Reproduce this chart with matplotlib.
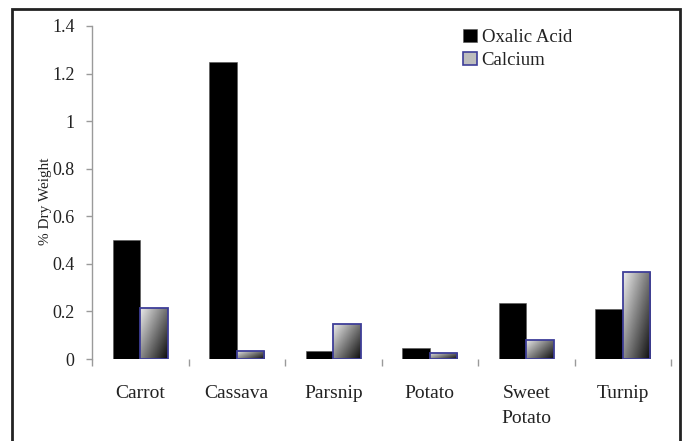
import numpy as np
import matplotlib
matplotlib.use("Agg")
import matplotlib.pyplot as plt
from matplotlib.patches import Rectangle, Patch

# Data
categories = ["Carrot", "Cassava", "Parsnip", "Potato", "Sweet\nPotato", "Turnip"]
oxalic_acid = [0.50, 1.25, 0.035, 0.045, 0.235, 0.21]
calcium = [0.215, 0.035, 0.147, 0.027, 0.08, 0.365]
y_ticks = [0, 0.2, 0.4, 0.6, 0.8, 1, 1.2, 1.4]
y_tick_labels = ["0", "0.2", "0.4", "0.6", "0.8", "1", "1.2", "1.4"]

plt.rcParams["font.family"] = ["Liberation Serif", "DejaVu Serif"]

W, H = 686, 441
fig = plt.figure(figsize=(W / 100, H / 100), dpi=100)
ax = fig.add_axes([92 / W, 1 - 359 / H, (671 - 92) / W, (359 - 26) / H])

x = np.arange(len(categories))
width = 0.2857
edge_blue = "#3e3e98"

ax.bar(x - width / 2, oxalic_acid, width=width, color="black",
       edgecolor="#555555", linewidth=0.4, zorder=2)
ca_bars = ax.bar(x + width / 2, calcium, width=width, color="none",
                 edgecolor=edge_blue, linewidth=1.3, zorder=3)

# diagonal white -> dark gradient inside each calcium bar
u = np.linspace(0, 1, 60)
v = np.linspace(1, 0, 120)
uu, vv = np.meshgrid(u, v)
grad = 0.55 * uu + 0.45 * (1 - vv)
for bar in ca_bars:
    x0 = bar.get_x()
    im = ax.imshow(grad, extent=[x0, x0 + bar.get_width(), 0, bar.get_height()],
                   cmap="gray_r", vmin=-0.08, vmax=1.05, aspect="auto",
                   interpolation="bilinear", zorder=2.5)
    im.set_clip_path(bar)

ax.set_xlim(-0.5, len(categories) - 0.5)
ax.set_ylim(0, 1.4)
ax.set_yticks(y_ticks)
ax.set_yticklabels(y_tick_labels)
ax.set_xticks(x)
ax.set_xticklabels(categories)
ax.set_xticks(np.arange(len(categories) + 1) - 0.5, minor=True)

for side in ["top", "right", "bottom"]:
    ax.spines[side].set_visible(False)
ax.spines["left"].set_color("#9a9a9a")
ax.spines["left"].set_linewidth(1.0)

ax.tick_params(axis="y", direction="out", length=4.5, width=1.0, color="#9a9a9a",
               labelsize=13, labelcolor="#222222", pad=8)
ax.tick_params(axis="x", which="major", length=0, labelsize=14,
               labelcolor="#222222", pad=19)
ax.tick_params(axis="x", which="minor", direction="out", length=5, width=1.0,
               color="#9a9a9a")
for lbl in ax.get_xticklabels():
    lbl.set_linespacing(1.55)

ax.set_ylabel("% Dry Weight", fontsize=11, color="#222222")
ax.yaxis.label.set_verticalalignment("center")
ax.yaxis.set_label_coords((46 - 92) / (671 - 92), (359 - 201) / (359 - 26))

handles = [Patch(facecolor="black", edgecolor="#555555", linewidth=0.4),
           Patch(facecolor="#bdbdbd", edgecolor=edge_blue, linewidth=1.2)]
ax.legend(handles, ["Oxalic Acid", "Calcium"], loc="upper left",
          bbox_to_anchor=(463 / W, 1 - 29 / H), bbox_transform=fig.transFigure,
          frameon=False, fontsize=13.5, handlelength=0.72, handleheight=0.68,
          handletextpad=0.28, labelspacing=0.33, borderpad=0, borderaxespad=0,
          labelcolor="#222222")

# outer frame around the whole chart
fig.patches.append(Rectangle((12 / W, -0.1), (680 - 12) / W, 1.1 - 9 / H,
                             transform=fig.transFigure, fill=False,
                             edgecolor="#222222", linewidth=2.0))

fig.savefig("out.png", dpi=100)
plt.close(fig)
